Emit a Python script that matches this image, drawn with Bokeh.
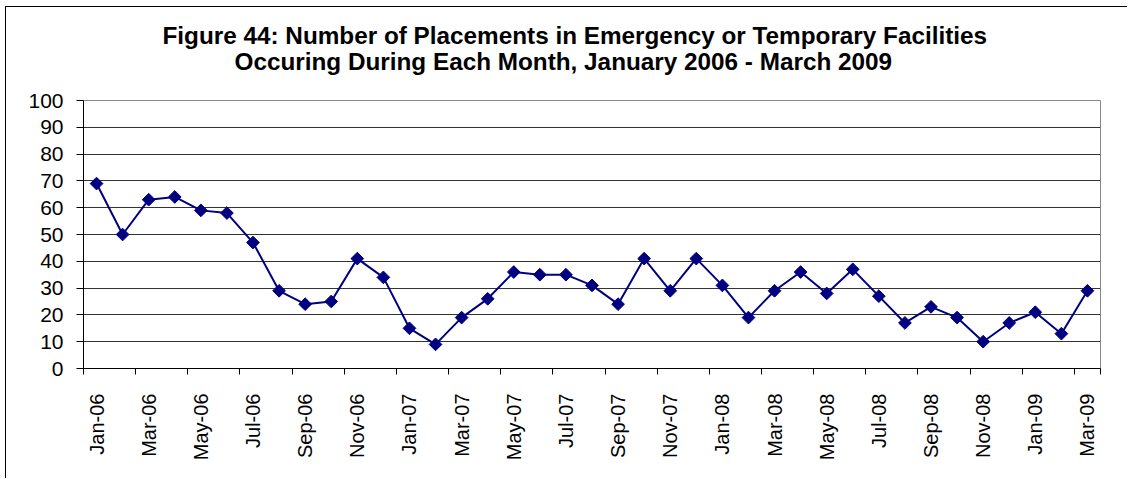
import math
from bokeh.plotting import figure
from bokeh.models import FixedTicker, Title, ColumnDataSource, Range1d
from bokeh.embed import file_html
from bokeh.resources import INLINE

months = ["Jan", "Feb", "Mar", "Apr", "May", "Jun", "Jul", "Aug", "Sep", "Oct", "Nov", "Dec"]
month_labels = [f"{m}-{y:02d}" for y in (6, 7, 8) for m in months] + ["Jan-09", "Feb-09", "Mar-09"]
placements = [69, 50, 63, 64, 59, 58, 47, 29, 24, 25, 41, 34,
              15, 9, 19, 26, 36, 35, 35, 31, 24, 41, 29, 41,
              31, 19, 29, 36, 28, 37, 27, 17, 23, 19, 10, 17,
              21, 13, 29]
y_ticks = list(range(0, 101, 10))
title_line1 = "Figure 44:  Number of Placements in Emergency or Temporary Facilities"
title_line2 = "Occuring During Each Month, January 2006 - March 2009"

idx = list(range(len(month_labels)))
src = ColumnDataSource(dict(x=idx, y=placements, label=month_labels))

FONT = "Liberation Sans"
NAVY = "#000080"

p = figure(width=1122, height=472, output_backend="svg", toolbar_location=None,
           x_range=Range1d(-0.5, len(month_labels) - 0.5), y_range=Range1d(0, 100),
           min_border_left=77, min_border_right=28, min_border_top=93, min_border_bottom=111,
           styles={"margin-left": "5px", "margin-top": "6px",
                   "border-left": "1px solid black", "border-top": "1px solid black"})
p.title = None
p.add_layout(Title(text=title_line2, text_font=FONT, text_font_size="24.3px", text_font_style="bold",
                   align="left", offset=151, standoff=51, text_color="black"), "above")
p.add_layout(Title(text=title_line1, text_font=FONT, text_font_size="24.3px", text_font_style="bold",
                   align="left", offset=79, standoff=-56, text_color="black"), "above")

p.line("x", "y", source=src, line_color=NAVY, line_width=2)
p.scatter("x", "y", source=src, marker="square", angle=math.pi / 4, size=9,
          fill_color=NAVY, line_color=NAVY)

p.outline_line_color = "#888888"
p.outline_line_width = 1
p.background_fill_color = "white"
p.border_fill_color = "white"

p.xgrid.visible = False
p.ygrid.ticker = FixedTicker(ticks=y_ticks[1:-1])
p.ygrid.grid_line_color = "#333333"
p.ygrid.grid_line_width = 1

p.yaxis.ticker = FixedTicker(ticks=y_ticks)
p.yaxis.major_label_text_font = FONT
p.yaxis.major_label_text_font_size = "21px"
p.yaxis.major_label_text_color = "black"
p.yaxis.axis_line_color = "black"
p.yaxis.major_tick_line_color = "black"
p.yaxis.major_tick_out = 7
p.yaxis.major_tick_in = 0
p.yaxis.minor_tick_line_color = None
p.yaxis.major_label_standoff = 13

shown = idx[::2]
p.xaxis.ticker = FixedTicker(ticks=shown, minor_ticks=[i - 0.5 for i in shown] + [len(idx) - 0.5])
p.xaxis.major_label_overrides = {i: month_labels[i] for i in shown}
p.xaxis.major_label_orientation = math.pi / 2
p.xaxis.major_label_text_font = FONT
p.xaxis.major_label_text_font_size = "20px"
p.xaxis.major_label_text_color = "black"
p.xaxis.axis_line_color = "black"
p.xaxis.major_tick_out = 0
p.xaxis.major_tick_in = 0
p.xaxis.minor_tick_line_color = "black"
p.xaxis.minor_tick_out = 6
p.xaxis.minor_tick_in = 0
p.xaxis.major_label_standoff = 19

open("out.html", "w").write(file_html(p, INLINE))
